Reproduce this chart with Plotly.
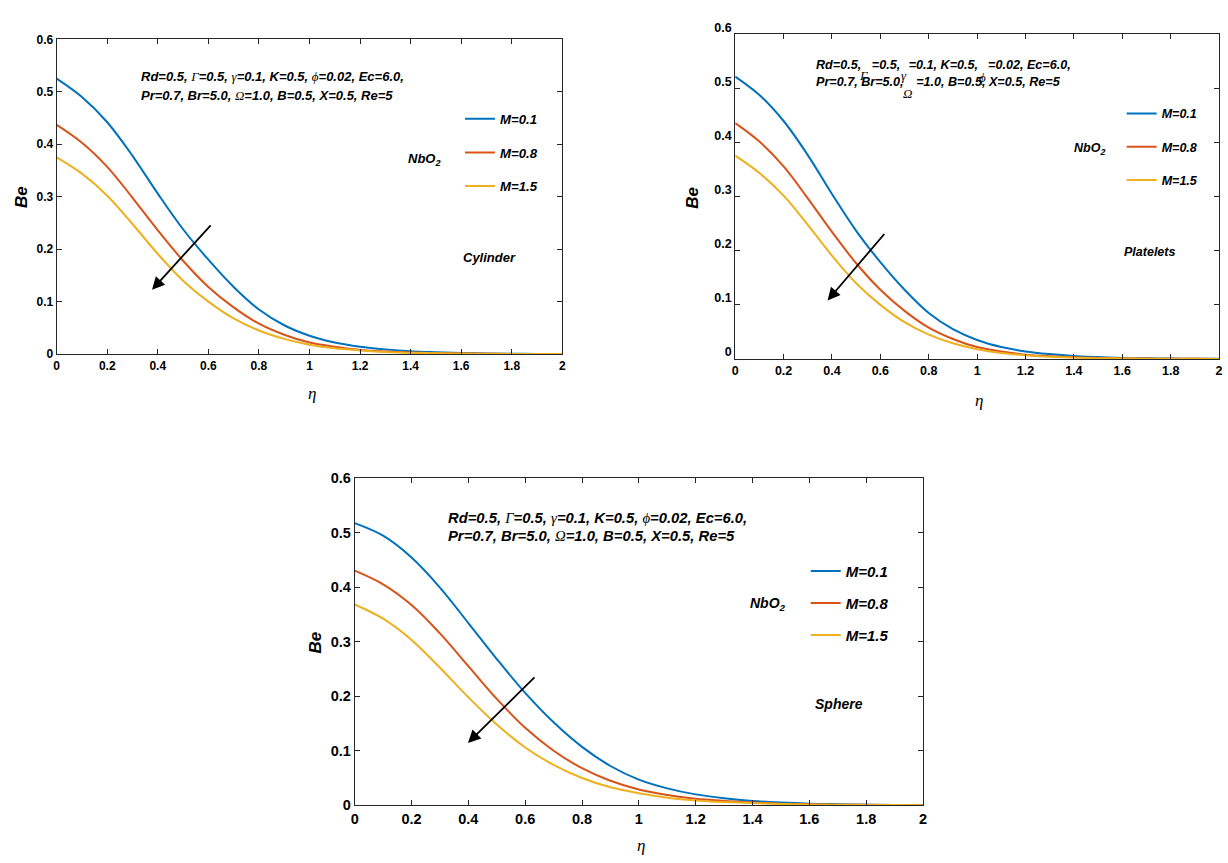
import plotly.graph_objects as go

W, H = 1228, 863

# ---------------- data ----------------
eta = [0.0, 0.1, 0.2, 0.3, 0.4, 0.5, 0.6, 0.7, 0.8, 0.9, 1.0,
       1.1, 1.2, 1.3, 1.4, 1.5, 1.6, 1.7, 1.8, 1.9, 2.0]
series_names = ["M=0.1", "M=0.8", "M=1.5"]
colors = ["#0072BD", "#D95319", "#EDB120"]

cyl_m01 = [0.525, 0.490, 0.442, 0.378, 0.306, 0.238, 0.180, 0.128, 0.085, 0.055, 0.035,
           0.022, 0.014, 0.009, 0.0055, 0.0035, 0.002, 0.0012, 0.0007, 0.0004, 0.0002]
cyl_m08 = [0.437, 0.403, 0.357, 0.298, 0.236, 0.178, 0.128, 0.089, 0.058, 0.037, 0.022,
           0.014, 0.008, 0.005, 0.003, 0.002, 0.0012, 0.0007, 0.0004, 0.0002, 0.0001]
cyl_m15 = [0.375, 0.344, 0.302, 0.248, 0.191, 0.140, 0.100, 0.068, 0.045, 0.029, 0.018,
           0.011, 0.007, 0.004, 0.0025, 0.0015, 0.001, 0.0006, 0.0004, 0.0002, 0.0001]

pla_m01 = [0.522, 0.488, 0.440, 0.377, 0.305, 0.237, 0.179, 0.128, 0.085, 0.055, 0.035,
           0.022, 0.014, 0.009, 0.0055, 0.0035, 0.002, 0.0012, 0.0007, 0.0004, 0.0002]
pla_m08 = [0.436, 0.402, 0.356, 0.297, 0.235, 0.177, 0.128, 0.089, 0.058, 0.037, 0.022,
           0.014, 0.008, 0.005, 0.003, 0.002, 0.0012, 0.0007, 0.0004, 0.0002, 0.0001]
pla_m15 = [0.376, 0.344, 0.302, 0.248, 0.191, 0.140, 0.100, 0.068, 0.045, 0.029, 0.018,
           0.011, 0.007, 0.004, 0.0025, 0.0015, 0.001, 0.0006, 0.0004, 0.0002, 0.0001]

sph_m01 = [0.517, 0.494, 0.454, 0.399, 0.334, 0.268, 0.206, 0.152, 0.107, 0.072, 0.047,
           0.031, 0.020, 0.013, 0.008, 0.005, 0.003, 0.002, 0.0012, 0.0007, 0.0004]
sph_m08 = [0.430, 0.405, 0.367, 0.315, 0.255, 0.195, 0.142, 0.100, 0.068, 0.045, 0.029,
           0.019, 0.012, 0.008, 0.005, 0.003, 0.002, 0.0012, 0.0008, 0.0005, 0.0003]
sph_m15 = [0.368, 0.342, 0.303, 0.252, 0.198, 0.148, 0.106, 0.074, 0.050, 0.033, 0.022,
           0.014, 0.009, 0.006, 0.004, 0.0025, 0.0015, 0.001, 0.0006, 0.0004, 0.0002]

panels = [
    dict(series=[cyl_m01, cyl_m08, cyl_m15], label="Cylinder"),
    dict(series=[pla_m01, pla_m08, pla_m15], label="Platelets"),
    dict(series=[sph_m01, sph_m08, sph_m15], label="Sphere"),
]

# ---------------- layout helpers ----------------
def px(x):
    return x / W

def py(y):
    return 1 - y / H

# plot boxes in pixels: (left, right, top, bottom)
boxes = [(53, 562, 26, 349), (736, 1223, 21, 354), (353, 925, 476, 812)]
tick_sizes = [12, 12.5, 14.5]
tick_shift = [0, -7, 0]

FONT = "Liberation Sans, Arial, sans-serif"
SERIF = "Liberation Serif, Times New Roman, serif"
AXC = "#262626"

fig = go.Figure()

legend_names = ["legend", "legend2", "legend3"]
for i, p in enumerate(panels):
    sfx = "" if i == 0 else str(i + 1)
    for j, ys in enumerate(p["series"]):
        fig.add_trace(go.Scatter(
            x=eta, y=ys, mode="lines", name=series_names[j],
            line=dict(color=colors[j], width=2, shape="spline", smoothing=1.0),
            xaxis="x" + sfx, yaxis="y" + sfx,
            legend=legend_names[i], legendgroup=f"g{i}{j}",
            hoverinfo="skip",
        ))

layout = dict(
    width=W, height=H, margin=dict(l=0, r=0, t=0, b=0),
    paper_bgcolor="white", plot_bgcolor="white", showlegend=True,
    font=dict(family=FONT, color="black"),
)

for i, (l, r, t, b) in enumerate(boxes):
    sfx = "" if i == 0 else str(i + 1)
    common = dict(showline=True, linecolor=AXC, linewidth=1, mirror="allticks",
                  ticks="inside", ticklen=5, tickcolor=AXC, showgrid=False,
                  zeroline=False,
                  tickfont=dict(family=FONT, size=tick_sizes[i], color="black", weight="bold"))
    layout["xaxis" + sfx] = dict(domain=[px(l), px(r)], range=[0, 2], dtick=0.2, tick0=0,
                                 anchor="y" + sfx, **common)
    yax = dict(domain=[py(b), py(t)], range=[0, 0.6], dtick=0.1, tick0=0,
               anchor="x" + sfx, **common)
    if tick_shift[i]:
        yax["ticklabelshift"] = tick_shift[i]
    layout["yaxis" + sfx] = yax

# legends: (left px of line, top px, group gap, font size)
leg_pos = [(467, 92, 13.5, 13.2), (1133, 87, 14, 12.5), (815, 555, 9.5, 15)]
for i, (lx, ty, gap, fs) in enumerate(leg_pos):
    layout[legend_names[i]] = dict(
        x=px(lx - 8), y=py(ty), xanchor="left", yanchor="top",
        bgcolor="rgba(0,0,0,0)", borderwidth=0, tracegroupgap=gap,
        font=dict(family=FONT, size=fs, color="black", weight="bold", style="italic"),
        itemwidth=30,
    )

fig.update_layout(**layout)

def G(ch):
    return f'<span style="font-family:{SERIF};font-weight:normal">{ch}</span>'

def Hd(ch):  # hidden placeholder keeping spacing
    return f'<span style="font-family:{SERIF};font-weight:normal;color:rgba(0,0,0,0)">{ch}</span>'

line1 = "Rd=0.5, " + G("Γ") + "=0.5, " + G("γ") + "=0.1, K=0.5, " + G("ϕ") + "=0.02, Ec=6.0,"
line2 = "Pr=0.7, Br=5.0, " + G("Ω") + "=1.0, B=0.5, X=0.5, Re=5"
line1h = "Rd=0.5, " + Hd("Γ") + "=0.5, " + Hd("γ") + "=0.1, K=0.5, " + Hd("ϕ") + "=0.02, Ec=6.0,"
line2h = "Pr=0.7, Br=5.0, " + Hd("Ω") + "=1.0, B=0.5, X=0.5, Re=5"

annots = []

def bi(size):
    return dict(family=FONT, size=size, color="black", weight="bold", style="italic")

def txt(x, y, s, font, xanchor="left"):
    annots.append(dict(x=px(x), y=py(y), xref="paper", yref="paper", text=s,
                       showarrow=False, xanchor=xanchor, yanchor="middle", font=font))

# parameter text
txt(136, 64, line1, bi(13)); txt(136, 84, line2, bi(13))
txt(815, 52, line1h, bi(12.6)); txt(815, 70, line2h, bi(12.6))
txt(445, 517, line1, bi(14.8)); txt(445, 536, line2, bi(14.8))

gf = dict(family=SERIF, size=13, color="black", style="italic")
txt(865, 63, "Γ", gf, "center"); txt(906, 63, "γ", gf, "center")
txt(985, 65, "ϕ", gf, "center"); txt(909, 82, "Ω", gf, "center")

nb = "NbO<sub>2</sub>"
txt(405, 149, nb, bi(13)); txt(1075, 139, nb, bi(12.5)); txt(749, 605, nb, bi(14))
txt(460, 250, panels[0]["label"], bi(13))
txt(1125, 244, panels[1]["label"], bi(12.5))
txt(814, 708, panels[2]["label"], bi(14))

# axis titles
be = dict(family=FONT, size=17, color="black", weight="bold", style="italic")
et = dict(family=SERIF, size=17, color="black", style="italic")
for (bx, byy), (ex, ey) in [((17, 188), (310, 389)), ((693, 188), (981, 397)), ((314, 645), (641, 853))]:
    annots.append(dict(x=px(bx), y=py(byy), xref="paper", yref="paper", text="Be",
                       showarrow=False, textangle=-90, font=be, xanchor="center", yanchor="middle"))
    annots.append(dict(x=px(ex), y=py(ey), xref="paper", yref="paper", text="η",
                       showarrow=False, font=et, xanchor="center", yanchor="middle"))

# arrows (head, tail)
for (hx, hy), (tx, ty) in [((149, 283), (209, 217)), ((829, 294), (887, 226)), ((467, 748), (535, 681))]:
    annots.append(dict(x=px(hx), y=py(hy), xref="paper", yref="paper", text="",
                       showarrow=True, ax=tx - hx, ay=ty - hy, arrowhead=2, arrowsize=1.4,
                       arrowwidth=1.8, arrowcolor="black"))

fig.update_layout(annotations=annots)
fig.write_html("out.html")
